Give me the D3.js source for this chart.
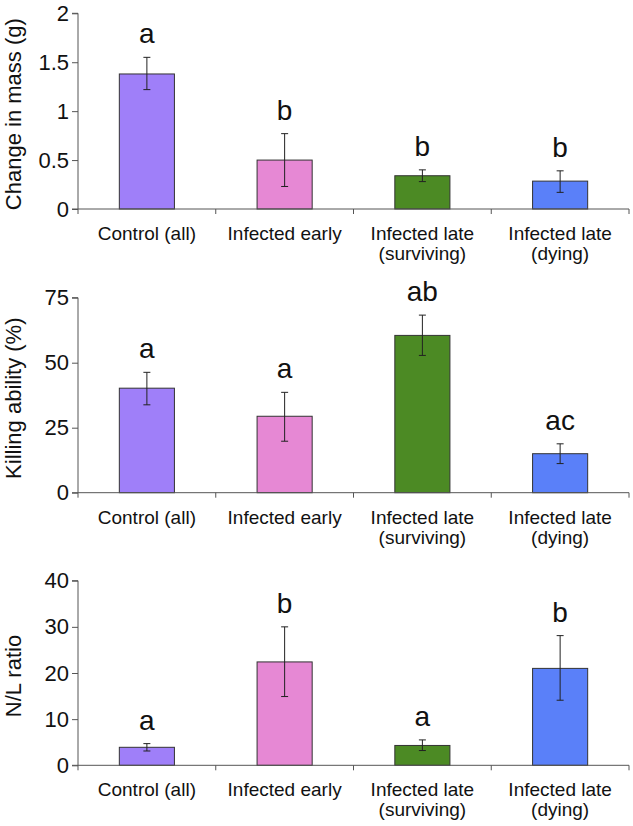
<!DOCTYPE html>
<html>
<head>
<meta charset="utf-8">
<script src="https://cdn.jsdelivr.net/npm/d3@7"></script>
<style>
  html, body { margin: 0; padding: 0; background: #fff; }
  svg { display: block; font-family: "Liberation Sans", Arial, Helvetica, sans-serif; }
</style>
</head>
<body>
<svg id="chart" width="633" height="826"></svg>
<script>
// ---- data ----
const categories = [["Control (all)"], ["Infected early"], ["Infected late", "(surviving)"], ["Infected late", "(dying)"]];
const barColors = ["#9F7FF9", "#E688D4", "#4C8A24", "#5A80F9"];

const massMean  = [1.38, 0.50, 0.34, 0.285];
const massLow   = [1.22, 0.23, 0.28, 0.17];
const massHigh  = [1.55, 0.77, 0.40, 0.39];
const massLetters = ["a", "b", "b", "b"];
const massTicks = [0, 0.5, 1, 1.5, 2];

const killMean  = [40.2, 29.4, 60.5, 15.0];
const killLow   = [33.8, 19.8, 52.8, 11.2];
const killHigh  = [46.3, 38.6, 68.3, 18.8];
const killLetters = ["a", "a", "ab", "ac"];
const killTicks = [0, 25, 50, 75];

const nlMean  = [3.9, 22.4, 4.3, 21.0];
const nlLow   = [3.1, 14.9, 3.2, 14.1];
const nlHigh  = [4.7, 30.0, 5.5, 28.1];
const nlLetters = ["a", "b", "a", "b"];
const nlTicks = [0, 10, 20, 30, 40];

const panels = [
  { title: "Change in mass (g)", mean: massMean, low: massLow, high: massHigh, letters: massLetters, ticks: massTicks, top: 13.3, bottom: 209 },
  { title: "Killing ability (%)", mean: killMean, low: killLow, high: killHigh, letters: killLetters, ticks: killTicks, top: 297.7, bottom: 492.7 },
  { title: "N/L ratio", mean: nlMean, low: nlLow, high: nlHigh, letters: nlLetters, ticks: nlTicks, top: 580.7, bottom: 765.3 }
];

// ---- drawing ----
const svg = d3.select("#chart");
const left = 78, right = 629;
const idx = d3.range(categories.length);
const x = d3.scaleBand().domain(idx).range([left, right]).padding(0);
const barW = x.bandwidth() * 0.4;
const axisColor = "#555";

panels.forEach(p => {
  const y = d3.scaleLinear().domain([0, d3.max(p.ticks)]).range([p.bottom, p.top]);
  const g = svg.append("g");

  // y axis
  const ya = g.append("g").attr("transform", `translate(${left},0)`)
    .call(d3.axisLeft(y).tickValues(p.ticks).tickFormat(d => String(d)).tickSize(6).tickPadding(3));
  ya.select(".domain").attr("stroke", axisColor).attr("d", `M-6,${y(d3.max(p.ticks))}H0V${p.bottom}`);
  ya.selectAll(".tick line").attr("stroke", axisColor);
  ya.selectAll(".tick text").attr("font-size", 22).attr("fill", "#111")
    .attr("font-family", "'Liberation Sans', Arial, sans-serif");

  // y title
  g.append("text")
    .attr("transform", `translate(21,${(p.top + p.bottom) / 2 + 3}) rotate(-90)`)
    .attr("text-anchor", "middle")
    .attr("font-size", 22).attr("fill", "#111")
    .text(p.title);

  // bars
  g.selectAll("rect.bar").data(idx).enter().append("rect")
    .attr("x", i => x(i) + (x.bandwidth() - barW) / 2)
    .attr("y", i => y(p.mean[i]))
    .attr("width", barW)
    .attr("height", i => y(0) - y(p.mean[i]))
    .attr("fill", i => barColors[i])
    .attr("stroke", "#333").attr("stroke-width", 1);

  // error bars
  const cx = i => x(i) + x.bandwidth() / 2;
  const eb = g.selectAll("g.err").data(idx).enter().append("g").attr("stroke", "#222").attr("stroke-width", 1);
  eb.append("line").attr("x1", cx).attr("x2", cx).attr("y1", i => y(p.low[i])).attr("y2", i => y(p.high[i]));
  eb.append("line").attr("x1", i => cx(i) - 3.5).attr("x2", i => cx(i) + 3.5).attr("y1", i => y(p.high[i])).attr("y2", i => y(p.high[i]));
  eb.append("line").attr("x1", i => cx(i) - 3.5).attr("x2", i => cx(i) + 3.5).attr("y1", i => y(p.low[i])).attr("y2", i => y(p.low[i]));

  // significance letters
  g.selectAll("text.letter").data(idx).enter().append("text")
    .attr("x", cx).attr("y", i => y(p.high[i]) - 14)
    .attr("text-anchor", "middle").attr("font-size", 28).attr("fill", "#111")
    .text(i => p.letters[i]);

  // x axis line with category boundary ticks
  const xa = g.append("g");
  xa.append("line").attr("x1", left - 6).attr("x2", right).attr("y1", p.bottom).attr("y2", p.bottom).attr("stroke", axisColor);
  const bounds = idx.map(i => x(i)).concat([right]);
  xa.selectAll("line.bt").data(bounds).enter().append("line")
    .attr("x1", d => d).attr("x2", d => d).attr("y1", p.bottom).attr("y2", p.bottom + 5).attr("stroke", axisColor);

  // category labels
  const labs = g.selectAll("text.cat").data(idx).enter().append("text")
    .attr("x", cx).attr("y", p.bottom + 31)
    .attr("text-anchor", "middle").attr("font-size", 19).attr("fill", "#111");
  labs.selectAll("tspan").data(i => categories[i].map(t => ({ t, i }))).enter().append("tspan")
    .attr("x", d => cx(d.i)).attr("dy", (d, j) => j === 0 ? 0 : 20)
    .text(d => d.t);
});
</script>
</body>
</html>
